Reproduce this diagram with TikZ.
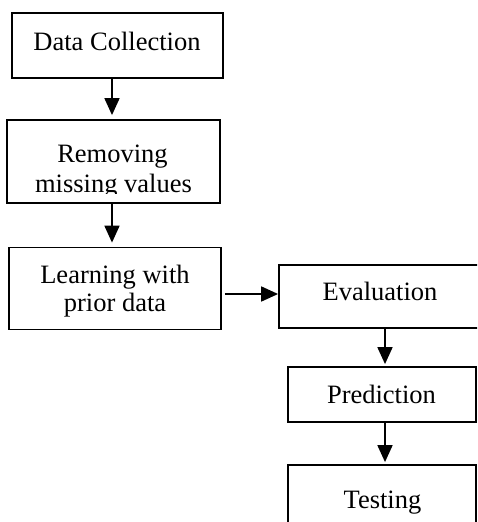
\documentclass[tikz,border=0pt]{standalone}
\usepackage{fontspec}
\setmainfont{Liberation Serif}
\usetikzlibrary{arrows.meta}

\tikzset{
  box/.style={draw=black, line width=1.8pt, inner sep=0pt, fill=white},
  lbl/.style={inner sep=0pt, anchor=base, font=\fontsize{26.5}{30}\selectfont},
  arr/.style={line width=1.8pt, -{Triangle[width=15pt,length=17pt]}},
}

\begin{document}
\begin{tikzpicture}[x=1pt,y=-1pt]
  \useasboundingbox (0,0) rectangle (477,522);
  \clip (0,0) rectangle (477,522);

  % left column
  \node[box, minimum width=211pt, minimum height=65pt] (dc) at (117.5,45.5) {};
  \node[box, minimum width=213pt, minimum height=83pt] (rm) at (113.5,161.5) {};
  \node[box, minimum width=212pt, minimum height=82pt] (lr) at (115,288.5) {};

  % right column (the evaluation and testing boxes run past the page edge)
  \node[box, minimum width=212pt, minimum height=63pt] (ev) at (385,296.5) {};
  \node[box, minimum width=188pt, minimum height=55pt] (pr) at (382,394.5) {};
  \node[box, minimum width=188pt, minimum height=76pt] (ts) at (382,503) {};

  % labels
  \node[lbl] (dct) at (117,50) {Data Collection};
  \node[lbl] (rmt1) at (112.5,162) {Removing};
  \begin{scope}
    \clip (rm.north west) rectangle (rm.east |- 0,193.5);
    \node[lbl] (rmt2) at (113.5,192) {missing values};
  \end{scope}
  \node[lbl] (lrt1) at (115,283) {Learning with};
  \node[lbl] (lrt2) at (115,311) {prior data};
  \node[lbl] (evt) at (380,300) {Evaluation};
  \node[lbl] (prt) at (381.5,403) {Prediction};
  \node[lbl] (tst) at (382.5,508) {Testing};

  % connectors
  \coordinate (lx) at (112,0);
  \coordinate (rx) at (385,0);
  \draw[arr, shorten >=4pt] (lx |- dc.south) -- (lx |- rm.north);
  \draw[arr, shorten >=4pt] (lx |- rm.south) -- (lx |- lr.north);
  \draw[arr, shorten <=3pt] (lr.east |- 0,294) -- (ev.west |- 0,294);
  \draw[arr, shorten >=2pt] (rx |- ev.south) -- (rx |- pr.north);
  \draw[arr, shorten >=2pt] (rx |- pr.south) -- (rx |- ts.north);
\end{tikzpicture}
\end{document}
